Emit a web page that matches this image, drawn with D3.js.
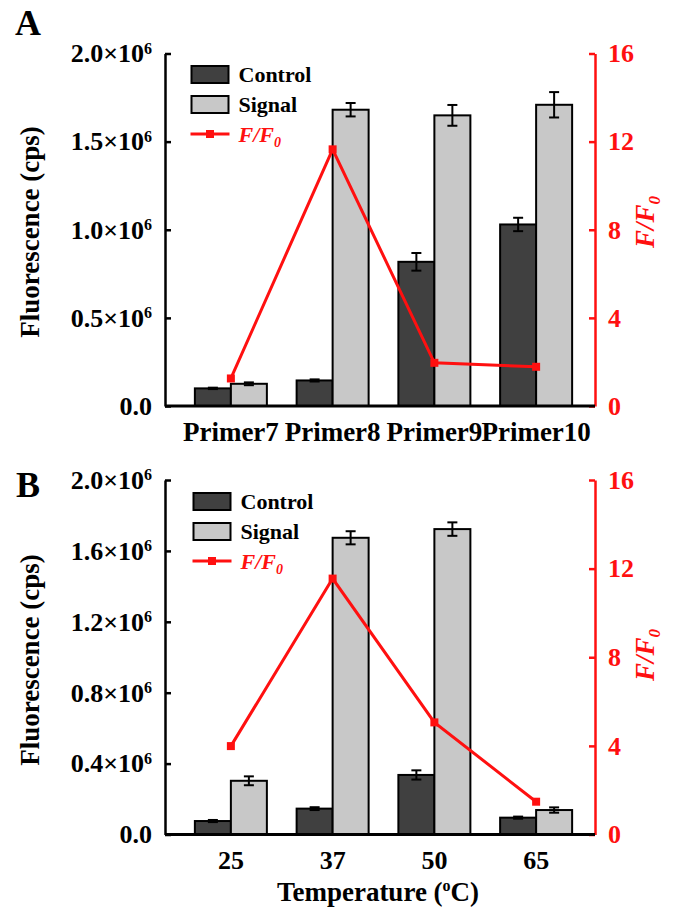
<!DOCTYPE html>
<html>
<head>
<meta charset="utf-8">
<script src="https://cdn.jsdelivr.net/npm/d3@7"></script>
<style>
  html, body { margin: 0; padding: 0; background: #fff; }
  svg { display: block; }
</style>
</head>
<body>
<svg id="chart" width="678" height="907"></svg>
<script>
// ---------------- DATA ----------------
const categoriesA = ["Primer7", "Primer8", "Primer9", "Primer10"];
const controlA    = [0.100e6, 0.145e6, 0.818e6, 1.030e6];
const controlErrA = [0.004e6, 0.006e6, 0.050e6, 0.038e6];
const signalA     = [0.126e6, 1.681e6, 1.649e6, 1.709e6];
const signalErrA  = [0.008e6, 0.038e6, 0.059e6, 0.072e6];
const ratioA      = [1.25, 11.65, 1.96, 1.78];
const yTicksA     = [0, 0.5e6, 1.0e6, 1.5e6, 2.0e6];

const categoriesB = ["25", "37", "50", "65"];
const controlB    = [0.076e6, 0.146e6, 0.336e6, 0.095e6];
const controlErrB = [0.006e6, 0.008e6, 0.026e6, 0.006e6];
const signalB     = [0.303e6, 1.674e6, 1.723e6, 0.138e6];
const signalErrB  = [0.025e6, 0.037e6, 0.038e6, 0.015e6];
const ratioB      = [3.99, 11.55, 5.06, 1.48];
const yTicksB     = [0, 0.4e6, 0.8e6, 1.2e6, 1.6e6, 2.0e6];

const y2Ticks     = [0, 4, 8, 12, 16];
const legendLabels = ["Control", "Signal", "F/F"];
const xTitleB = "Temperature (";
const yTitle = "Fluorescence (cps)";

// ---------------- STYLE ----------------
const FONT = "'Liberation Serif', 'Times New Roman', Times, serif";
const RED = "#ff1010";
const DARK = "#404040";
const LIGHT = "#c8c8c8";
const svg = d3.select("#chart");

function drawPanel(cfg) {
  const g = svg.append("g");
  const left = 165, right = 595;
  const x = d3.scaleBand().domain(cfg.categories).range([180, 587]).padding(0);
  const y = d3.scaleLinear().domain([0, 2e6]).range([cfg.y0, cfg.yTop]);
  const y2 = d3.scaleLinear().domain([0, 16]).range([cfg.y0, cfg.yTop]);
  const bw = 36;
  const cx = d => x(d) + x.bandwidth() / 2;

  const idx = d3.range(cfg.categories.length);
  const series = [
    {vals: cfg.control, errs: cfg.controlErr, fill: DARK, off: -bw},
    {vals: cfg.signal, errs: cfg.signalErr, fill: LIGHT, off: 0}
  ];
  series.forEach(s => {
    g.selectAll(null).data(idx).enter().append("rect")
      .attr("x", i => cx(cfg.categories[i]) + s.off)
      .attr("y", i => y(s.vals[i]))
      .attr("width", bw)
      .attr("height", i => cfg.y0 - y(s.vals[i]))
      .attr("fill", s.fill)
      .attr("stroke", "#000")
      .attr("stroke-width", 2);
    const eg = g.selectAll(null).data(idx).enter().append("g");
    const ex = i => cx(cfg.categories[i]) + s.off + bw / 2;
    eg.append("line")
      .attr("x1", ex).attr("x2", ex)
      .attr("y1", i => y(s.vals[i] + s.errs[i]))
      .attr("y2", i => y(s.vals[i] - s.errs[i]))
      .attr("stroke", "#000").attr("stroke-width", 2);
    [1, -1].forEach(sg => {
      eg.append("line")
        .attr("x1", i => ex(i) - 5).attr("x2", i => ex(i) + 5)
        .attr("y1", i => y(s.vals[i] + sg * s.errs[i]))
        .attr("y2", i => y(s.vals[i] + sg * s.errs[i]))
        .attr("stroke", "#000").attr("stroke-width", 2);
    });
  });

  const line = d3.line().x((d, i) => cx(cfg.categories[i])).y(d => y2(d));
  g.append("path").datum(cfg.ratio).attr("d", line)
    .attr("fill", "none").attr("stroke", RED).attr("stroke-width", 3);
  g.selectAll(null).data(cfg.ratio).enter().append("rect")
    .attr("x", (d, i) => cx(cfg.categories[i]) - 4)
    .attr("y", d => y2(d) - 4)
    .attr("width", 8).attr("height", 8).attr("fill", RED);

  const ya = d3.axisLeft(y).tickValues(cfg.yTicks).tickSizeInner(-6).tickSizeOuter(0).tickPadding(13);
  const yg = g.append("g").attr("transform", `translate(${left},0)`).call(ya);
  yg.select(".domain").attr("stroke", "#000").attr("stroke-width", 2.5);
  yg.selectAll(".tick line").attr("stroke", "#000").attr("stroke-width", 2.5);
  yg.selectAll(".tick text").attr("font-size", 26).attr("fill", "#000")
    .each(function(d) {
      const t = d3.select(this).text(null);
      if (d === 0) { t.append("tspan").text("0.0"); return; }
      t.append("tspan").text((d / 1e6).toFixed(1) + "\u00d710");
      t.append("tspan").attr("font-size", 16).attr("dy", "-0.55em").text("6");
    });

  const y2a = d3.axisRight(y2).tickValues(y2Ticks).tickSizeInner(-6).tickSizeOuter(0).tickPadding(13);
  const y2g = g.append("g").attr("transform", `translate(${right},0)`).call(y2a);
  y2g.select(".domain").attr("stroke", RED).attr("stroke-width", 2.5);
  y2g.selectAll(".tick line").attr("stroke", RED).attr("stroke-width", 2.5);
  y2g.selectAll(".tick text").attr("font-size", 26).attr("fill", RED);

  const xa = d3.axisBottom(x).tickSize(0).tickPadding(16);
  const xg = g.append("g").attr("transform", `translate(0,${cfg.y0})`).call(xa);
  xg.select(".domain").remove();
  xg.append("line").attr("x1", left).attr("x2", right).attr("y1", 0).attr("y2", 0)
    .attr("stroke", "#000").attr("stroke-width", 3);
  xg.selectAll(".tick text").attr("font-size", cfg.xFont).attr("fill", "#000");

  g.append("text")
    .attr("transform", `translate(30,${cfg.titleY}) rotate(-90)`)
    .attr("text-anchor", "middle").attr("dy", "0.35em")
    .attr("font-size", 27).text(yTitle);

  const rt = g.append("text")
    .attr("transform", `translate(645,${cfg.rTitleY}) rotate(-90)`)
    .attr("text-anchor", "middle").attr("dy", "0.35em")
    .attr("font-size", 27).attr("font-style", "italic").attr("fill", RED);
  rt.append("tspan").text("F/F");
  rt.append("tspan").attr("font-size", 17).attr("dy", "0.3em").text("0");

  svg.append("text").attr("x", cfg.letterX).attr("y", cfg.letterY)
    .attr("font-size", 36).text(cfg.letter);

  const lg = g.append("g").attr("transform", `translate(${cfg.legX},${cfg.legY})`);
  const fills = [DARK, LIGHT];
  fills.forEach((f, i) => {
    lg.append("rect").attr("x", 0).attr("y", i * 30).attr("width", 37).attr("height", 17)
      .attr("fill", f).attr("stroke", "#000").attr("stroke-width", 2);
    lg.append("text").attr("x", 47).attr("y", i * 30 + 8.5).attr("dy", "0.35em")
      .attr("font-size", 22).text(legendLabels[i]);
  });
  lg.append("line").attr("x1", -1).attr("x2", 38).attr("y1", 68).attr("y2", 68)
    .attr("stroke", RED).attr("stroke-width", 3);
  lg.append("rect").attr("x", 14.5).attr("y", 64).attr("width", 8).attr("height", 8).attr("fill", RED);
  const lt = lg.append("text").attr("x", 47).attr("y", 68).attr("dy", "0.35em")
    .attr("font-size", 22).attr("font-style", "italic").attr("fill", RED);
  lt.append("tspan").text(legendLabels[2]);
  lt.append("tspan").attr("font-size", 14).attr("dy", "0.35em").text("0");
}

drawPanel({
  letter: "A", letterX: 15, letterY: 35,
  categories: categoriesA, control: controlA, controlErr: controlErrA,
  signal: signalA, signalErr: signalErrA, ratio: ratioA, yTicks: yTicksA,
  y0: 406, yTop: 53.5, xFont: 27, titleY: 232, rTitleY: 222,
  legX: 191.5, legY: 66
});

drawPanel({
  letter: "B", letterX: 16, letterY: 497,
  categories: categoriesB, control: controlB, controlErr: controlErrB,
  signal: signalB, signalErr: signalErrB, ratio: ratioB, yTicks: yTicksB,
  y0: 834.5, yTop: 480, xFont: 26, titleY: 660, rTitleY: 655,
  legX: 193.5, legY: 493
});

const xt = svg.append("text").attr("x", 378).attr("y", 901)
  .attr("text-anchor", "middle").attr("font-size", 27);
xt.append("tspan").text(xTitleB);
xt.append("tspan").attr("font-size", 16).attr("dy", "-0.6em").text("o");
xt.append("tspan").attr("dy", "0.35em").text("C)");

// apply serif bold font to every text element
svg.selectAll("text")
  .attr("font-family", null)
  .style("font-family", FONT)
  .style("font-weight", "bold");
</script>
</body>
</html>
